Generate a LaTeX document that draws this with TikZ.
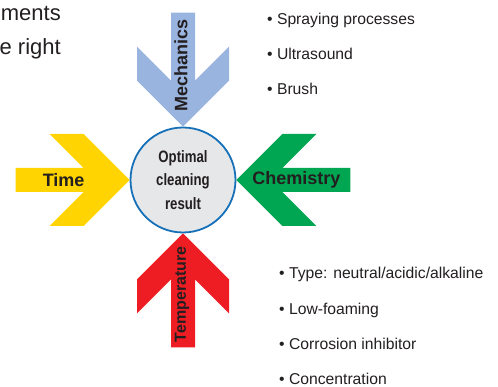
\documentclass[tikz,border=0pt]{standalone}
\usepackage{fontspec}
\setmainfont{Liberation Sans}
\newfontfamily\condfont[FakeStretch=0.8]{Liberation Sans}

\definecolor{mechblue}{HTML}{9AB4E0}
\definecolor{timeyellow}{HTML}{FFD400}
\definecolor{chemgreen}{HTML}{00A651}
\definecolor{tempred}{HTML}{EE1D24}
\definecolor{ringblue}{HTML}{1570B8}
\definecolor{ringgray}{HTML}{E6E7E9}
\definecolor{inkgray}{HTML}{231F20}

\tikzset{
	chevron/.pic={
		\fill (0,0) -- (-46,46) -- (-80,46) -- (-46,12) -- (-114,12) -- (-114,-12)
			-- (-46,-12) -- (-80,-46) -- (-46,-46) -- cycle;
	},
	armlabel/.style={inner sep=0pt, text=inkgray, font=\bfseries\fontsize{18}{20}\selectfont},
	listitem/.style={inner sep=0pt, anchor=base west, text=inkgray, font=\fontsize{15.7}{18}\selectfont},
}

\begin{document}
\begin{tikzpicture}[x=1pt,y=1pt]
		\useasboundingbox (0,0) rectangle (498,387);

		% text cut off on the left
		\node[inner sep=0pt, anchor=base east, text=inkgray, font=\fontsize{22}{26}\selectfont] (cuttop) at (61,366) {ments};
		\node[inner sep=0pt, anchor=base east, text=inkgray, font=\fontsize{22}{26}\selectfont] (cutbot) at (61,332) {e right};

		% centre
		\node[circle, minimum size=105, inner sep=0pt, draw=ringblue, line width=1.8, fill=ringgray,
			align=center, text=inkgray, font=\condfont\bfseries\fontsize{16.5}{23.5}\selectfont] (result) at (183,207)
			{Optimal\\cleaning\\result};

		% the four arrows
		\pic[fill=mechblue, rotate=-90] at (result.north) {chevron};
		\pic[fill=timeyellow] at (result.west) {chevron};
		\pic[fill=chemgreen, rotate=180] at (result.east) {chevron};
		\pic[fill=tempred, rotate=90] at (result.south) {chevron};

		\node[armlabel, rotate=90] (mech) at ([xshift=-2, yshift=61]result.north) {Mechanics};
		\node[armlabel] (time) at ([xshift=-66]result.west) {Time};
		\node[armlabel] (chem) at ([xshift=60]result.east) {Chemistry};
		\node[armlabel, rotate=90, font=\bfseries\fontsize{16}{18}\selectfont] (temp) at ([xshift=-1, yshift=-61]result.south) {Temperature};

		% mechanics list
		\node[listitem] (spray) at (267,362) {• Spraying processes};
		\node[listitem] (ultra) at (267,327) {• Ultrasound};
		\node[listitem] (brush) at (267,292) {• Brush};

		% chemistry list
		\node[listitem] (type) at (279,108) {• Type: neutral/acidic/alkaline};
		\node[listitem] (foam) at (279,72.5) {• Low-foaming};
		\node[listitem] (corr) at (279,37) {• Corrosion inhibitor};
		\node[listitem] (conc) at (279,2.5) {• Concentration};

	\end{tikzpicture}
\end{document}
